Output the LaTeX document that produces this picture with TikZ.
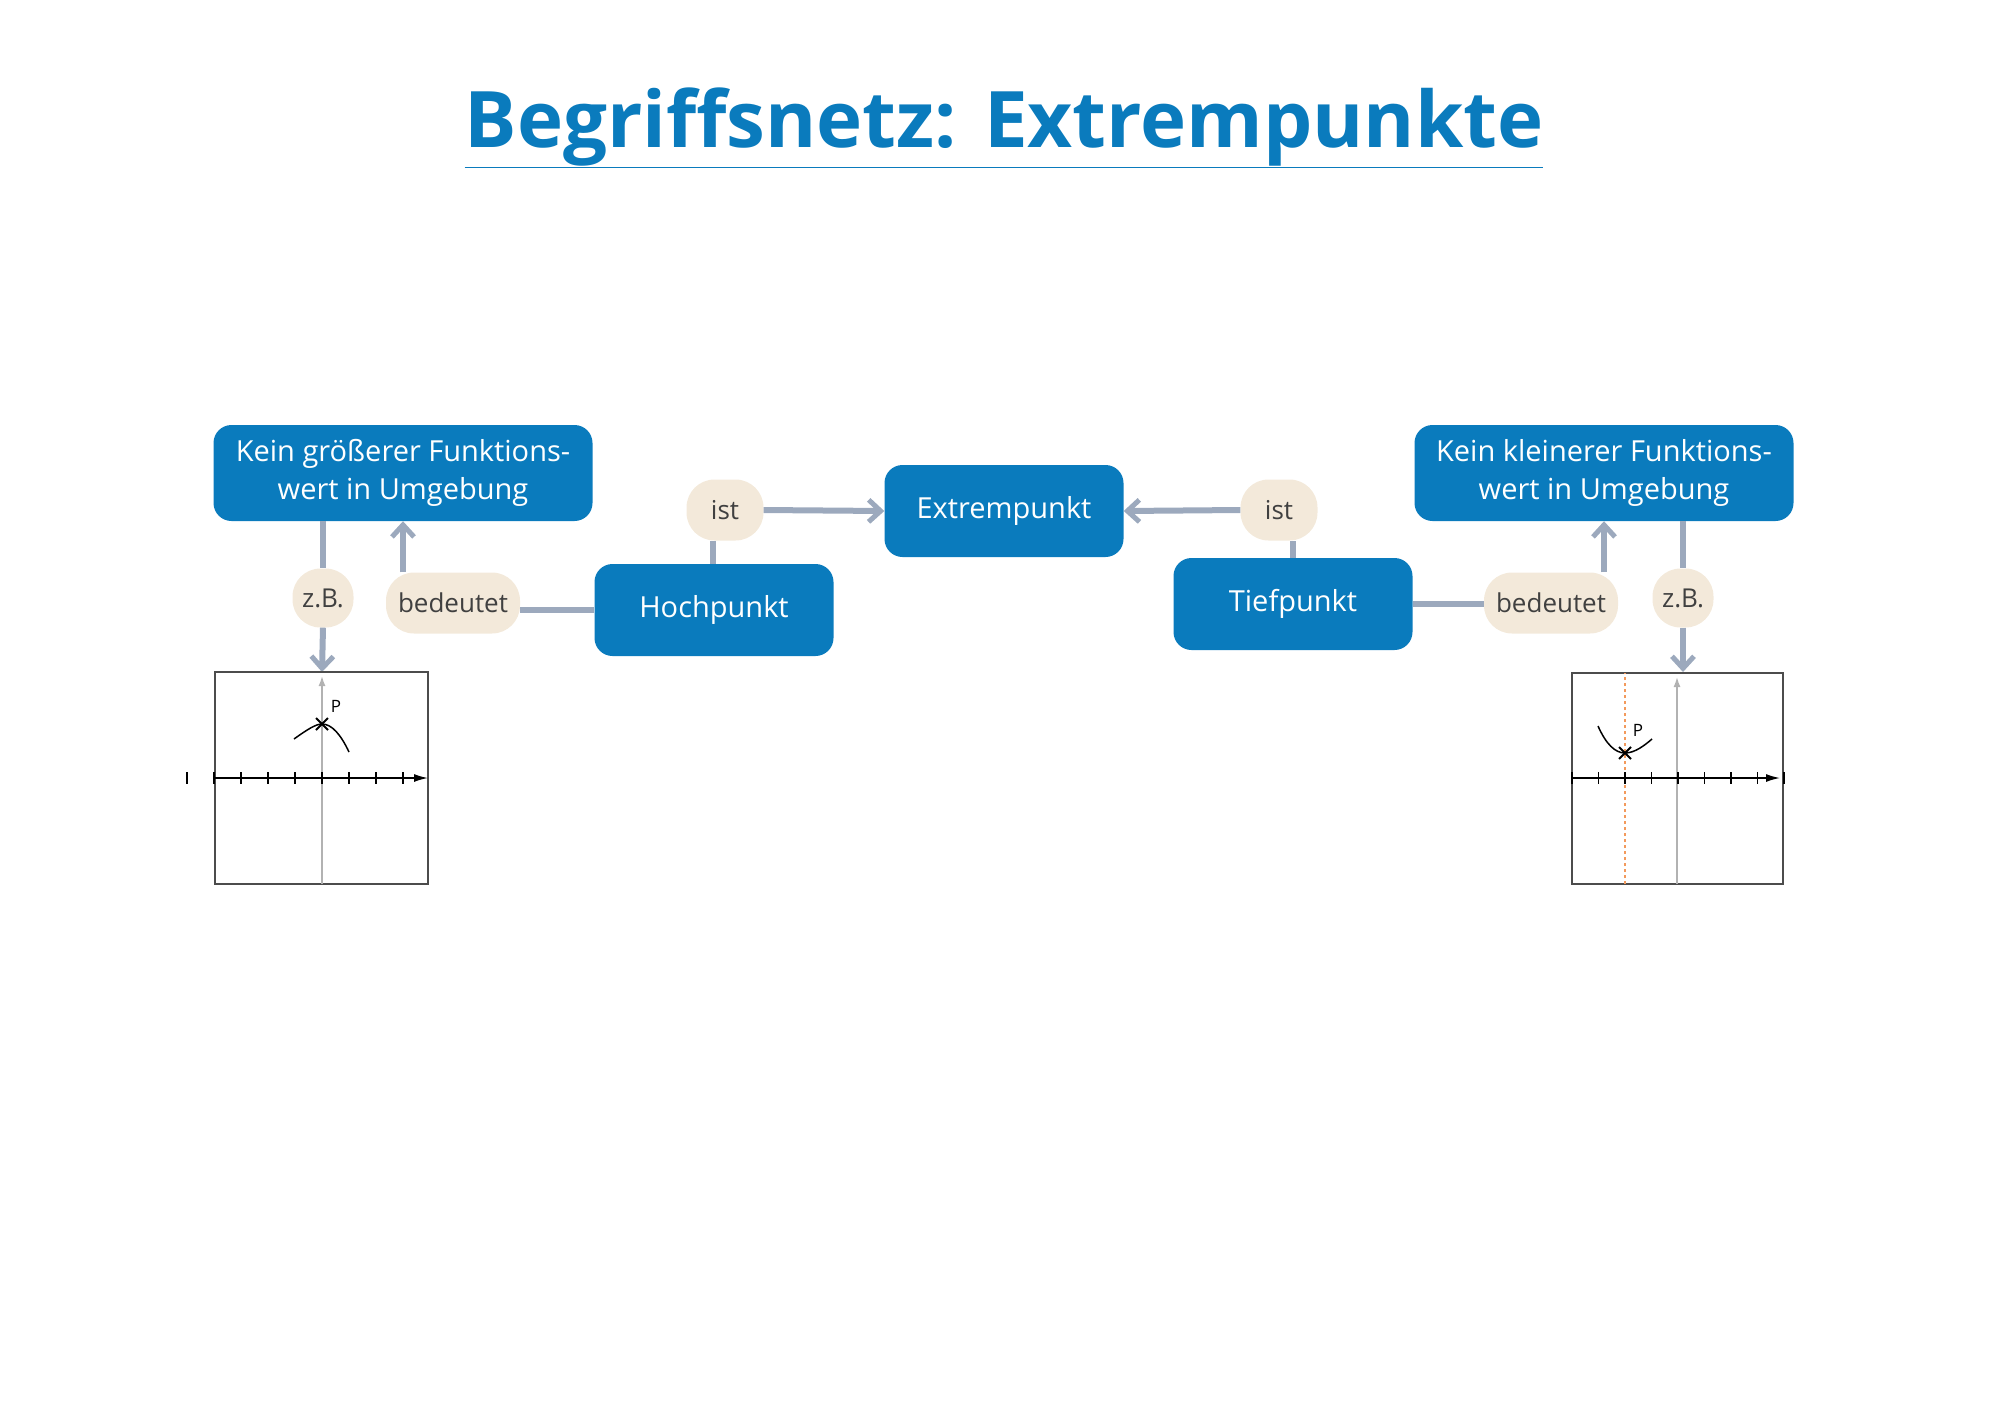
\documentclass[tikz,border=0pt]{standalone}
\usepackage{fontspec}
\setmainfont{Open Sans}
\usetikzlibrary{positioning,arrows.meta}
\definecolor{netzblau}{HTML}{0A7BBD}
\definecolor{pillbeige}{HTML}{F3E9DA}
\definecolor{linkgrau}{HTML}{9CA9BD}
\definecolor{achsorange}{HTML}{F39A5C}
\tikzset{
  begriff/.style={fill=netzblau,text=white,rounded corners=18pt,align=center,
    font=\fontsize{29}{38}\selectfont,inner sep=0pt},
  pille/.style={fill=pillbeige,text=black!75,rounded corners=28pt,
    font=\fontsize{26}{30}\selectfont,inner sep=0pt,minimum height=61pt},
  link/.style={draw=linkgrau,line width=6pt},
  pfeil/.style={link,-{Straight Barb[length=12pt,width=22pt,line width=5pt]}},
}
\begin{document}
\begin{tikzpicture}[x=1pt,y=-1pt]
\useasboundingbox (0,0) rectangle (2000,1414);
% title
\node (titel) at (1004,128) {\fontsize{78}{90}\selectfont\bfseries\color{netzblau}\underline{Begriffsnetz: Extrempunkte}};
% begriffe
\node[begriff,minimum width=379pt,minimum height=96pt] (groesser) at (403,473) {Kein größerer Funktions-\\wert in Umgebung};
\node[begriff,minimum width=239pt,minimum height=92pt] (extrem) at (1004,511) {Extrempunkt};
\node[begriff,minimum width=239pt,minimum height=92pt] (hoch) at (714,610) {Hochpunkt};
\node[begriff,minimum width=239pt,minimum height=92pt] (tief) at (1293,604) {Tiefpunkt};
\node[begriff,minimum width=379pt,minimum height=96pt] (kleiner) at (1604,473) {Kein kleinerer Funktions-\\wert in Umgebung};
% labels
\node[pille,minimum width=77pt] (ist1) at (725,510) {ist};
\node[pille,minimum width=77pt] (ist2) at (1279,510) {ist};
\node[pille,minimum width=61pt,minimum height=59pt] (zb1) at (323,598) {z.B.};
\node[pille,minimum width=61pt,minimum height=59pt] (zb2) at (1683,598) {z.B.};
\node[pille,minimum width=134pt] (bed1) at (453,603) {bedeutet};
\node[pille,minimum width=134pt] (bed2) at (1551,603) {bedeutet};
% graph boxes
\coordinate (g1) at (322,672);
\coordinate (g2) at (1683,672);
% connectors
\begin{scope}[on background layer/.style={}]
\draw[link] (hoch.north -| 713,0) -- (ist1.south -| 713,0);
\draw[pfeil] (ist1.east) -- (extrem.west);
\draw[link] (tief.north) -- (ist2.south -| tief.north);
\draw[pfeil] (ist2.west) -- (extrem.east);
\draw[link] (hoch.west) -- (bed1.east |- hoch.west);
\draw[pfeil] (bed1.north -| groesser.south) -- (groesser.south);
\draw[link] (groesser.south -| zb1.north) -- (zb1.north);
\draw[pfeil] (zb1.south) -- (g1);
\draw[link] (tief.east) -- (bed2.west |- tief.east);
\draw[pfeil] (bed2.north -| kleiner.south) -- (kleiner.south);
\draw[link] (kleiner.south -| zb2.north) -- (zb2.north);
\draw[pfeil] (zb2.south) -- (g2);
\end{scope}
% left graph
\draw[black!70,line width=1.5pt] (215,672) rectangle (428,884);
\draw[achsorange!60,line width=1pt] (322,884) -- (322,690);
\draw[black!30,line width=1.5pt,-{Latex[length=10pt,width=7pt]}] (322,884) -- (322,676);
\draw[line width=1.5pt,-{Latex[length=14pt,width=8pt]}] (215,778) -- (428,778);
\foreach \k in {-5,-4,-3,-2,-1,0,1,2,3} \draw[line width=1.5pt] (322+27*\k,772) -- (322+27*\k,784);
\draw[line width=1.5pt] (294,739) .. controls (308,729) and (316,724) .. (322,724) .. controls (332,724) and (341,735) .. (349,752);
\draw[line width=2pt] (316,718) -- (328,730) (316,730) -- (328,718);
\node[font=\fontsize{17}{20}\selectfont] (p1) at (336,706) {P};
% right graph
\draw[black!70,line width=1.5pt] (1572,673) rectangle (1783,884);
\draw[black!30,line width=1.5pt,-{Latex[length=10pt,width=7pt]}] (1677,884) -- (1677,677);
\draw[achsorange,line width=1.5pt,dashed] (1625,884) -- (1625,673);
\draw[line width=1.5pt,-{Latex[length=14pt,width=8pt]}] (1572,778) -- (1780,778);
\foreach \k in {-2,-1,0,1,2,3,4,5,6} \draw[line width=1.5pt] (1625+26.5*\k,772) -- (1625+26.5*\k,784);
\draw[line width=1.5pt] (1598,726) .. controls (1606,744) and (1615,753) .. (1625,753) .. controls (1635,753) and (1645,745) .. (1652,739);
\draw[line width=2pt] (1619,747) -- (1631,759) (1619,759) -- (1631,747);
\node[font=\fontsize{17}{20}\selectfont] (p2) at (1638,730) {P};
\end{tikzpicture}
\end{document}
